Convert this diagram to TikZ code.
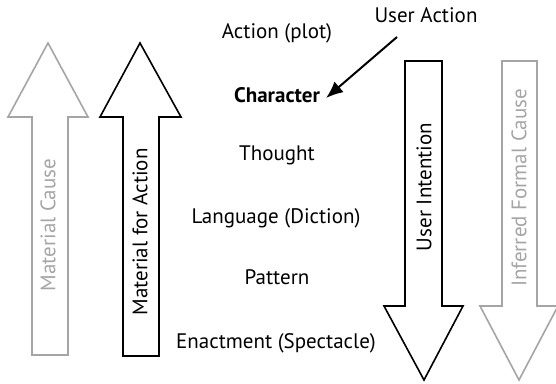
\documentclass[tikz,border=0pt]{standalone}
\usepackage{fontspec}
\setmainfont{PT Sans}
\usetikzlibrary{arrows.meta}
\definecolor{lightgr}{RGB}{165,165,165}
\begin{document}
\begin{tikzpicture}[x=1pt,y=-1pt,
  lbl/.style={font=\fontsize{21}{23}\selectfont, inner sep=0pt},
  bigarrow/.style={line width=1.6pt, line join=miter},
  graytext/.style={text=lightgr},
]
\useasboundingbox (0,0) rectangle (556,383);
% up arrows
\draw[bigarrow, draw=lightgr] (48,43) -- (88,117) -- (68,117) -- (68,355) -- (32,355) -- (32,117) -- (8,117) -- cycle;
\draw[bigarrow, draw=black] (140,43) -- (181,117) -- (159,117) -- (159,356) -- (123,356) -- (123,117) -- (100,117) -- cycle;
% down arrows
\draw[bigarrow, draw=black] (405,61) -- (442,61) -- (442,306) -- (463,306) -- (424,380) -- (384,306) -- (405,306) -- cycle;
\draw[bigarrow, draw=lightgr] (502,61) -- (537,61) -- (537,306) -- (558,306) -- (519,380) -- (480,306) -- (502,306) -- cycle;
% arrow labels
\node[lbl, graytext, rotate=90] (mc) at (48,225) {Material Cause};
\node[lbl, rotate=90] (mfa) at (140,232) {Material for Action};
\node[lbl, rotate=90] (ui) at (424,187) {User Intention};
\node[lbl, graytext, rotate=90] (ifc) at (519,188) {Inferred Formal Cause};
% centre list
\node[lbl] (action) at (277,33) {Action (plot)};
\node[lbl, font=\fontsize{21}{23}\selectfont\bfseries] (char) at (277,95) {Character};
\node[lbl] (thought) at (277,155) {Thought};
\node[lbl] (lang) at (276,218) {Language (Diction)};
\node[lbl] (pattern) at (277,277) {Pattern};
\node[lbl] (enact) at (276,343) {Enactment (Spectacle)};
\node[lbl] (ua) at (426,15) {User Action};
\coordinate (uas) at (397,37);
\draw[line width=2pt, -{Latex[length=17pt,width=14pt]}] (uas) -- ([xshift=6pt,yshift=-3pt]char.east);
\end{tikzpicture}
\end{document}
